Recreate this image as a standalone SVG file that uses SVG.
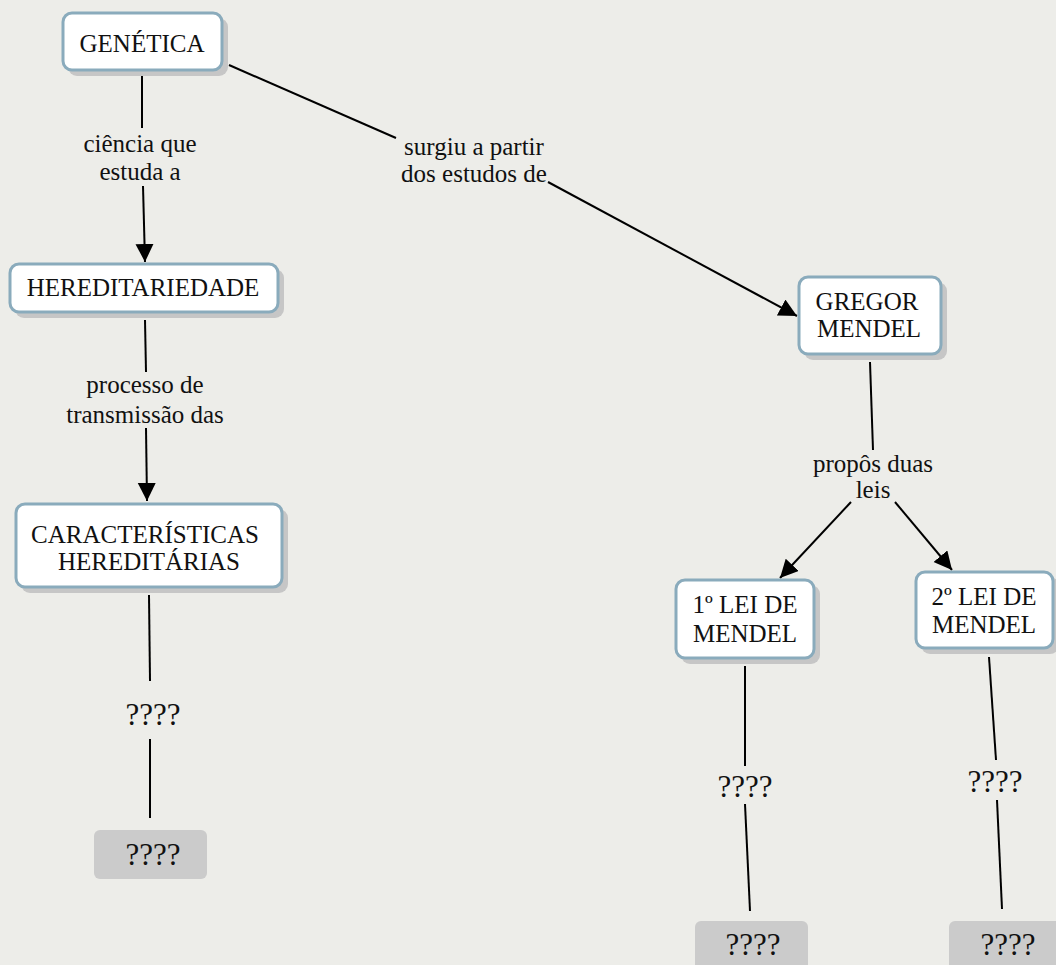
<svg xmlns="http://www.w3.org/2000/svg" width="1056" height="965" viewBox="0 0 1056 965">
  <style>
    .bg { fill: #ededE9; }
    .shadow { fill: #c6c6c6; }
    .concept { fill: #ffffff; stroke: #8aabbc; stroke-width: 3; }
    .stub { fill: #cbcbcb; }
    .label { font-family: "Liberation Serif", "Times New Roman", serif; font-size: 25px; fill: #111111; text-anchor: middle; }
    .q { font-family: "Liberation Serif", "Times New Roman", serif; font-size: 31px; fill: #111111; text-anchor: middle; }
    .link { stroke: #000000; stroke-width: 2; fill: none; }
    .arrow { marker-end: url(#head); }
  </style>
  <defs>
    <marker id="head" markerUnits="userSpaceOnUse" markerWidth="20" markerHeight="20" refX="18" refY="9" orient="auto">
      <path d="M0,0 L18,9 L0,18 Z" fill="#000000"/>
    </marker>
  </defs>

  <rect class="bg" x="0" y="0" width="1056" height="965"/>

  <!-- connectors and linking phrases -->
  <g id="connectors">
    <line class="link" x1="142" y1="76" x2="142" y2="128"/>
    <line class="link arrow" x1="143" y1="186" x2="145" y2="262"/>
    <text class="label" x="140" y="152">ciência que</text>
    <text class="label" x="140" y="180">estuda a</text>

    <line class="link" x1="145" y1="320" x2="146" y2="372"/>
    <line class="link arrow" x1="146" y1="428" x2="147" y2="501"/>
    <text class="label" x="145" y="393">processo de</text>
    <text class="label" x="145" y="423">transmissão das</text>

    <line class="link" x1="149" y1="595" x2="150" y2="681"/>
    <line class="link" x1="150" y1="739" x2="150" y2="818"/>
    <text class="q" x="153" y="725">????</text>

    <line class="link" x1="229" y1="65" x2="396" y2="138"/>
    <line class="link arrow" x1="548" y1="182" x2="797" y2="316"/>
    <text class="label" x="474" y="155">surgiu a partir</text>
    <text class="label" x="474" y="182">dos estudos de</text>

    <line class="link" x1="870" y1="362" x2="873" y2="450"/>
    <line class="link arrow" x1="851" y1="502" x2="780" y2="578"/>
    <line class="link arrow" x1="895" y1="502" x2="952" y2="570"/>
    <text class="label" x="873" y="472">propôs duas</text>
    <text class="label" x="873" y="498">leis</text>

    <line class="link" x1="745" y1="666" x2="745" y2="766"/>
    <line class="link" x1="745" y1="804" x2="750" y2="911"/>
    <text class="q" x="745" y="797">????</text>

    <line class="link" x1="989" y1="657" x2="996" y2="760"/>
    <line class="link" x1="997" y1="800" x2="1002" y2="909"/>
    <text class="q" x="995" y="792">????</text>
  </g>

  <g id="genetica">
    <rect class="shadow" x="68" y="18" width="160" height="58" rx="9"/>
    <rect class="concept" x="63" y="13" width="159" height="57" rx="9"/>
    <text class="label" x="142" y="52">GENÉTICA</text>
  </g>

  <g id="hereditariedade">
    <rect class="shadow" x="15" y="269" width="269" height="49" rx="9"/>
    <rect class="concept" x="10" y="264" width="268" height="48" rx="9"/>
    <text class="label" x="143" y="296">HEREDITARIEDADE</text>
  </g>

  <g id="caracteristicas">
    <rect class="shadow" x="21" y="509" width="267" height="84" rx="9"/>
    <rect class="concept" x="16" y="504" width="266" height="83" rx="9"/>
    <text class="label" x="145" y="543">CARACTERÍSTICAS</text>
    <text class="label" x="149" y="570">HEREDITÁRIAS</text>
  </g>

  <g id="gregor-mendel">
    <rect class="shadow" x="804" y="282" width="143" height="78" rx="9"/>
    <rect class="concept" x="799" y="277" width="142" height="77" rx="9"/>
    <text class="label" x="867" y="310">GREGOR</text>
    <text class="label" x="869" y="337">MENDEL</text>
  </g>

  <g id="primeira-lei">
    <rect class="shadow" x="681" y="585" width="139" height="79" rx="9"/>
    <rect class="concept" x="676" y="580" width="138" height="78" rx="9"/>
    <text class="label" x="745" y="613">1º LEI DE</text>
    <text class="label" x="745" y="642">MENDEL</text>
  </g>

  <g id="segunda-lei">
    <rect class="shadow" x="921" y="577" width="138" height="77" rx="9"/>
    <rect class="concept" x="916" y="572" width="137" height="76" rx="9"/>
    <text class="label" x="984" y="605">2º LEI DE</text>
    <text class="label" x="984" y="633">MENDEL</text>
  </g>

  <g id="stub-caracteristicas">
    <rect class="stub" x="94" y="830" width="113" height="49" rx="6"/>
    <text class="q" x="153" y="865">????</text>
  </g>

  <g id="stub-primeira-lei">
    <rect class="stub" x="695" y="921" width="113" height="60" rx="6"/>
    <text class="q" x="753" y="955">????</text>
  </g>

  <g id="stub-segunda-lei">
    <rect class="stub" x="949" y="921" width="113" height="60" rx="6"/>
    <text class="q" x="1008" y="955">????</text>
  </g>
</svg>
